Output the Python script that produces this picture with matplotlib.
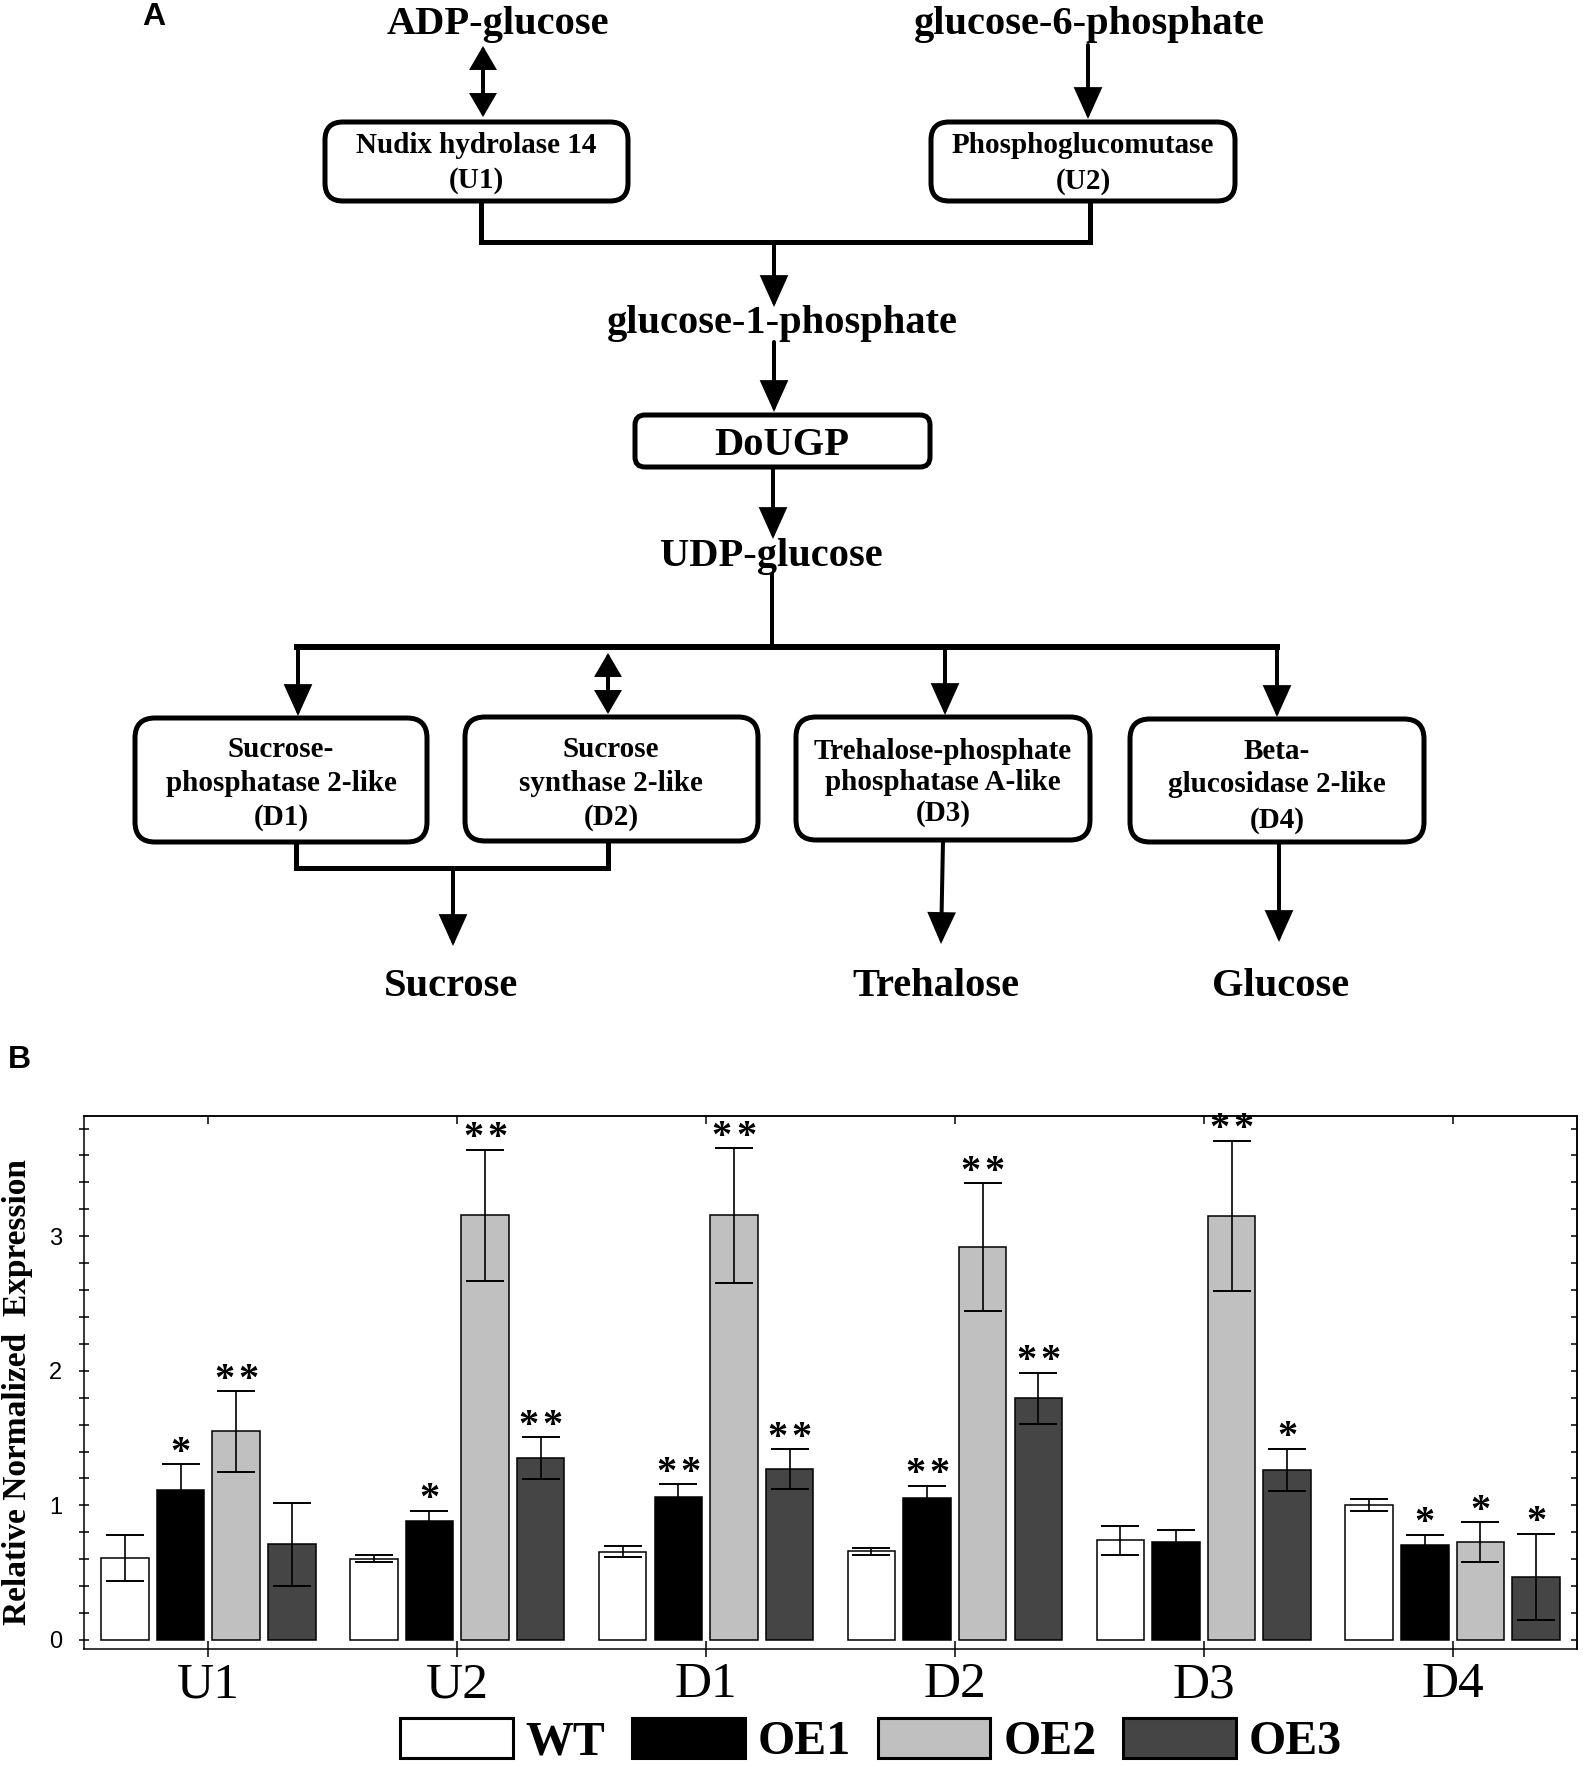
import numpy as np
import matplotlib
matplotlib.use('Agg')
import matplotlib.pyplot as plt
from matplotlib.patches import FancyBboxPatch, FancyArrowPatch, ArrowStyle, Patch
from matplotlib.ticker import MultipleLocator, FixedLocator, NullFormatter

# ---------------- data (panel B) ----------------
genes = ['U1', 'U2', 'D1', 'D2', 'D3', 'D4']
series_labels = ['WT', 'OE1', 'OE2', 'OE3']
wt = [0.61, 0.605, 0.657, 0.66, 0.74, 1.0]
wt_err = [0.17, 0.025, 0.04, 0.025, 0.105, 0.045]
oe1 = [1.115, 0.885, 1.063, 1.055, 0.73, 0.709]
oe1_err = [0.19, 0.077, 0.095, 0.09, 0.084, 0.073]
oe2 = [1.549, 3.154, 3.154, 2.92, 3.15, 0.73]
oe2_err = [0.30, 0.49, 0.50, 0.475, 0.56, 0.147]
oe3 = [0.71, 1.35, 1.269, 1.795, 1.264, 0.47]
oe3_err = [0.31, 0.155, 0.147, 0.19, 0.157, 0.32]
wt_sig = ['', '', '', '', '', '']
oe1_sig = ['*', '*', '**', '**', '', '*']
oe2_sig = ['**', '**', '**', '**', '**', '*']
oe3_sig = ['', '**', '**', '**', '*', '*']
y_ticks = [0, 1, 2, 3]
ylabel = 'Relative Normalized  Expression'

# ---------------- text (panel A) ----------------
metabolites = ['ADP-glucose', 'glucose-6-phosphate', 'glucose-1-phosphate',
               'UDP-glucose', 'Sucrose', 'Trehalose', 'Glucose']
enzyme_lines = {
    'U1': ['Nudix hydrolase 14', '(U1)'],
    'U2': ['Phosphoglucomutase', '(U2)'],
    'DoUGP': ['DoUGP'],
    'D1': ['Sucrose-', 'phosphatase 2-like', '(D1)'],
    'D2': ['Sucrose', 'synthase 2-like', '(D2)'],
    'D3': ['Trehalose-phosphate', 'phosphatase A-like', '(D3)'],
    'D4': ['Beta-', 'glucosidase 2-like', '(D4)'],
}

# ---------------- layout ----------------
W, H, DPI = 1583, 1768, 100
PX = 72.0 / DPI  # points per pixel
SERIF = 'Liberation Serif'
SANS = 'Liberation Sans'

fig = plt.figure(figsize=(W / DPI, H / DPI), dpi=DPI)

# ===== Panel A: pathway diagram (pixel coordinates) =====
axd = fig.add_axes([0, 0, 1, 1])
axd.set_xlim(0, W)
axd.set_ylim(H, 0)
axd.axis('off')

metab_pos = [(498, 34), (1089, 34), (782, 333), (771, 566),
             (451, 996), (936, 996), (1281, 996)]
for name, (mx, my) in zip(metabolites, metab_pos):
    axd.text(mx, my, name, ha='center', va='baseline', fontsize=29.2,
             fontweight='bold', family=SERIF)

box_geom = {  # x0, y0, x1, y1, rounding
    'U1': (325, 122, 628, 201, 18),
    'U2': (931, 122, 1235, 201, 18),
    'DoUGP': (635, 415, 930, 467, 10),
    'D1': (135, 718, 427, 842, 20),
    'D2': (465, 717, 758, 841, 20),
    'D3': (796, 717, 1090, 840, 20),
    'D4': (1130, 719, 1424, 842, 20),
}
box_text = {  # centre x, baselines, fontsize
    'U1': (476, [153, 188], 21),
    'U2': (1083, [153, 189], 21),
    'DoUGP': (782, [455], 29.2),
    'D1': (281, [757, 791, 825], 21),
    'D2': (611, [757, 791, 825], 21),
    'D3': (943, [759, 790, 821], 21),
    'D4': (1277, [759, 792, 828], 21),
}
for key, (x0, y0, x1, y1, r) in box_geom.items():
    axd.add_patch(FancyBboxPatch((x0, y0), x1 - x0, y1 - y0,
                                 boxstyle=f'round,pad=0,rounding_size={r}',
                                 fc='white', ec='black', lw=5 * PX, zorder=2))
    cx, bls, fs = box_text[key]
    for s, bl in zip(enzyme_lines[key], bls):
        axd.text(cx, bl, s, ha='center', va='baseline', fontsize=fs,
                 fontweight='bold', family=SERIF, zorder=3)


def line(pts, lw=4.5):
    xs, ys = zip(*pts)
    axd.plot(xs, ys, color='black', lw=lw * PX, solid_capstyle='projecting',
             solid_joinstyle='miter', zorder=1)


def arrow(p0, p1, both=False):
    if both:
        style = ArrowStyle('<|-|>', head_length=0.72, head_width=0.42)
    else:
        style = ArrowStyle('-|>', head_length=1.0, head_width=0.45)
    axd.add_patch(FancyArrowPatch(p0, p1, arrowstyle=style, mutation_scale=18,
                                  lw=4 * PX, color='black', shrinkA=0, shrinkB=0,
                                  joinstyle='miter', zorder=1))


arrow((483, 46), (483, 117), both=True)
arrow((1088, 45), (1088, 119))
line([(481, 201), (481, 242), (1090, 242), (1090, 201)], lw=5)
arrow((774, 242), (774, 307))
arrow((774, 342), (774, 412))
arrow((773, 469), (773, 539))
line([(772, 575), (772, 647)], lw=4)
line([(297, 647), (1277, 647)], lw=6)
arrow((298, 647), (298, 716))
arrow((608, 653), (608, 714), both=True)
arrow((945, 647), (945, 715))
arrow((1277, 647), (1277, 717))
line([(296, 842), (296, 868), (608, 868), (608, 841)], lw=5)
arrow((453, 868), (453, 946))
arrow((943, 841), (941, 944))
arrow((1279, 843), (1279, 942))

fig.text(154 / W, 1 - 17 / H, 'A', ha='center', va='center', fontsize=23,
         fontweight='bold', family=SANS)
fig.text(19 / W, 1 - 1060 / H, 'B', ha='center', va='center', fontsize=23,
         fontweight='bold', family=SANS)

# ===== Panel B: bar chart =====
ax = fig.add_axes([84 / W, 1 - 1649 / H, (1577 - 84) / W, (1649 - 1116) / H])
ax.set_zorder(2)
x = np.arange(len(genes))
step, width = 0.2236, 0.191
colors = ['#ffffff', '#000000', '#c0c0c0', '#454545']
series = [(wt, wt_err, wt_sig), (oe1, oe1_err, oe1_sig),
          (oe2, oe2_err, oe2_sig), (oe3, oe3_err, oe3_sig)]
for i, ((vals, errs, sig), col) in enumerate(zip(series, colors)):
    xs = x + (i - 1.5) * step
    ax.bar(xs, vals, width, color=col, edgecolor='black', linewidth=1.1, zorder=2)
    ax.errorbar(xs, vals, yerr=errs, fmt='none', ecolor='black', elinewidth=1.2,
                capsize=13.5, capthick=1.4, zorder=3)
    for xi, v, e, s in zip(xs, vals, errs, sig):
        n = len(s)
        for k in range(n):
            dx = (k - (n - 1) / 2) * 17.5
            ax.annotate('*', (xi, v + e), xytext=(dx, 1.0), textcoords='offset points',
                        ha='center', va='baseline', fontsize=29, fontweight='bold',
                        family=SERIF, zorder=4, annotation_clip=False)

ax.set_xlim(-0.5, 5.5)
ax.set_ylim(-0.067, 3.893)
ax.set_xticks(x, genes)
ax.yaxis.set_major_locator(FixedLocator(y_ticks))
ax.yaxis.set_minor_locator(MultipleLocator(0.2))
ax.tick_params(axis='x', direction='inout', length=11.5, width=1.1, pad=3.5,
               labelsize=37, labelfontfamily=SERIF, top=False, bottom=True)
ax.tick_params(axis='y', which='major', direction='inout', length=7.5, width=1.1,
               pad=12, labelsize=17, labelfontfamily=SANS, left=True, right=False)
ax.tick_params(axis='y', which='minor', direction='inout', length=6.5, width=1.1,
               left=True, right=False)
for sp in ax.spines.values():
    sp.set_linewidth(1.1)

sx = ax.secondary_xaxis('top')
sx.set_xticks(x)
sx.xaxis.set_major_formatter(NullFormatter())
sx.tick_params(axis='x', direction='in', length=6, width=1.1)
sy = ax.secondary_yaxis('right')
sy.yaxis.set_major_locator(FixedLocator(y_ticks))
sy.yaxis.set_minor_locator(MultipleLocator(0.2))
sy.yaxis.set_major_formatter(NullFormatter())
sy.tick_params(axis='y', which='both', direction='in', length=4.5, width=1.1)
for s in (sx, sy):
    for sp in s.spines.values():
        sp.set_linewidth(1.1)

fig.text(18 / W, 1 - 1392 / H, ylabel, rotation=90, ha='center', va='center',
         fontsize=24, fontweight='bold', family=SERIF)

handles = [Patch(facecolor=c, edgecolor='black', linewidth=2.2) for c in colors]
fig.legend(handles, series_labels, loc='center', bbox_to_anchor=(871 / W, 1 - 1741 / H),
           ncol=4, frameon=False, prop={'family': SERIF, 'weight': 'bold', 'size': 34.5},
           handlelength=2.35, handleheight=0.9, handletextpad=0.27, columnspacing=0.56,
           borderpad=0, borderaxespad=0)

fig.savefig('out.png', dpi=DPI)
